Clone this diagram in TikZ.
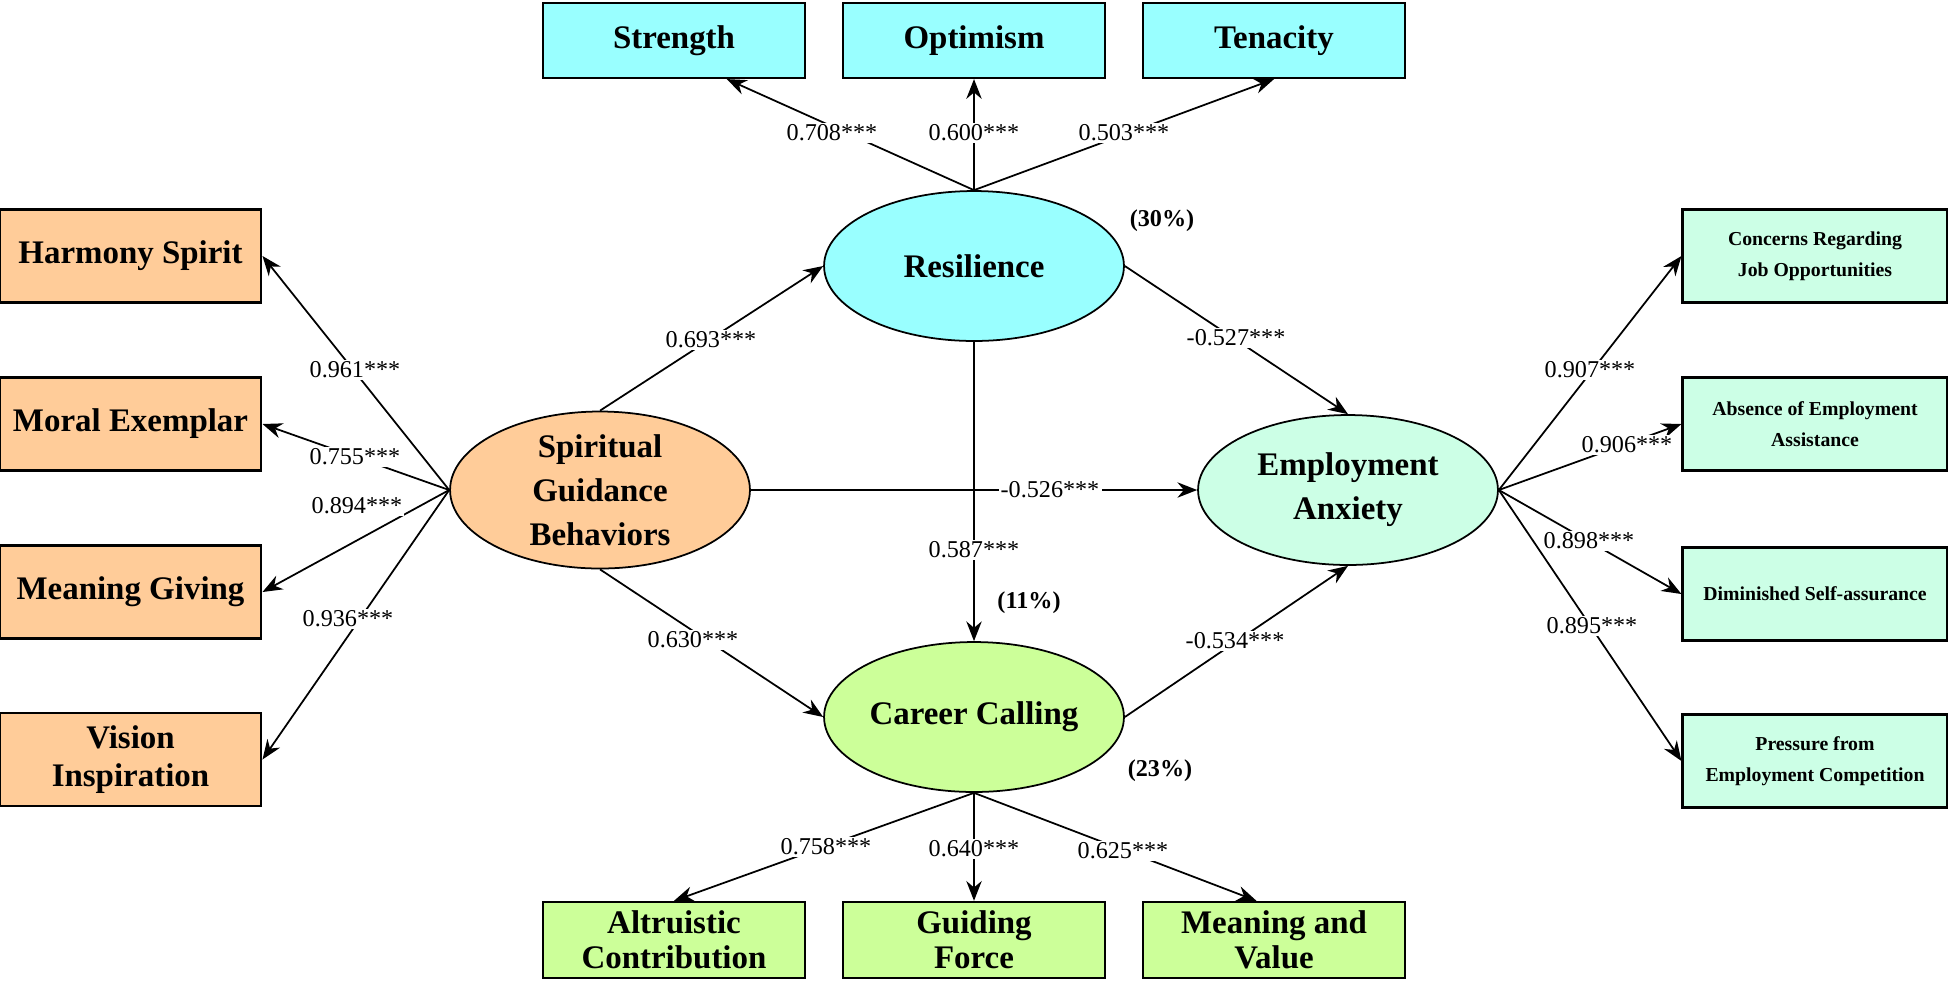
\documentclass[tikz,border=0pt]{standalone}
\usepackage{fontspec}
\setmainfont{Liberation Serif}
\usetikzlibrary{shapes.geometric,arrows.meta}
\definecolor{cy}{HTML}{99FFFF}
\definecolor{orng}{HTML}{FFCC99}
\definecolor{lgrn}{HTML}{CCFF99}
\definecolor{mint}{HTML}{CCFFE6}
\begin{document}
\begin{tikzpicture}[x=0.016cm,y=-0.016cm,
  box/.style={draw,line width=1pt,minimum width=4.19cm,minimum height=1.49cm,inner sep=1pt,align=center,font=\fontsize{15}{17}\selectfont\bfseries},
  tbox/.style={box,minimum height=1.2cm,fill=cy},
  bbox/.style={box,minimum height=1.22cm,fill=lgrn,font=\fontsize{15}{16}\selectfont\bfseries},
  lbox/.style={box,fill=orng},
  rbox/.style={box,fill=mint,minimum width=4.24cm,font=\fontsize{9}{14}\selectfont\bfseries},
  lat/.style={draw,ellipse,line width=0.8pt,minimum width=4.8cm,minimum height=2.4cm,inner sep=0pt,align=center,font=\fontsize{15}{20}\selectfont\bfseries},
  lab/.style={fill=white,inner sep=1pt,font=\fontsize{11}{12}\selectfont},
  pct/.style={font=\fontsize{11}{12}\selectfont\bfseries},
  arr/.style={-{Stealth[length=9pt,width=7pt]},line width=0.8pt}]
\useasboundingbox (0,0) rectangle (1948,982);
% top boxes
\node[tbox] (str) at (674,40.5) {Strength};
\node[tbox] (opt) at (974,40.5) {Optimism};
\node[tbox] (ten) at (1274,40.5) {Tenacity};
% bottom boxes
\node[bbox] (alt) at (674,940) {Altruistic\\Contribution};
\node[bbox] (gui) at (974,940) {Guiding\\Force};
\node[bbox] (mav) at (1274,940) {Meaning and\\Value};
% left boxes
\node[lbox] (har) at (130.5,256) {Harmony Spirit};
\node[lbox] (mor) at (130.5,424) {Moral Exemplar};
\node[lbox] (mea) at (130.5,592) {Meaning Giving};
\node[lbox] (vis) at (130.5,759.5) {Vision\\Inspiration};
% right boxes
\node[rbox] (con) at (1815,256) {Concerns Regarding\\Job Opportunities};
\node[rbox] (abs) at (1815,424) {Absence of Employment\\Assistance};
\node[rbox] (dim) at (1815,594) {Diminished Self-assurance};
\node[rbox] (pre) at (1815,761) {Pressure from\\Employment Competition};
% latent
\node[lat,fill=cy] (res) at (974,266) {Resilience};
\node[lat,fill=orng] (sgb) at (600,490) {Spiritual\\Guidance\\Behaviors};
\node[lat,fill=mint] (ea) at (1348,490) {Employment\\Anxiety};
\node[lat,fill=lgrn] (cc) at (974,717) {Career Calling};
% resilience indicators
\draw[arr] (res.north) -- ([xshift=24]str.south);
\draw[arr] (res.north) -- (opt.south);
\draw[arr] (res.north) -- (ten.south);
\node[lab] (l1) at (832,133) {0.708***};
\node[lab] (l2) at (974,133) {0.600***};
\node[lab] (l3) at (1124,133) {0.503***};
% career calling indicators
\draw[arr] (cc.south) -- (alt.north);
\draw[arr] (cc.south) -- (gui.north);
\draw[arr] (cc.south) -- ([xshift=-8]mav.north);
\node[lab] (l4) at (826,847) {0.758***};
\node[lab] (l5) at (974,849) {0.640***};
\node[lab] (l6) at (1123,851) {0.625***};
% SGB indicators
\draw[arr] (sgb.west) -- (har.east);
\draw[arr] (sgb.west) -- (mor.east);
\draw[arr] (sgb.west) -- (mea.east);
\draw[arr] (sgb.west) -- (vis.east);
\node[lab] (l7) at (355,370) {0.961***};
\node[lab] (l8) at (355,457) {0.755***};
\node[lab] (l9) at (357,506) {0.894***};
\node[lab] (l10) at (348,619) {0.936***};
% EA indicators
\draw[arr] (ea.east) -- (con.west);
\draw[arr] (ea.east) -- (abs.west);
\draw[arr] (ea.east) -- (dim.west);
\draw[arr] (ea.east) -- (pre.west);
\node[lab] (l11) at (1590,370) {0.907***};
\node[lab] (l12) at (1627,445) {0.906***};
\node[lab] (l13) at (1589,541) {0.898***};
\node[lab] (l14) at (1592,626) {0.895***};
% structural paths
\draw[arr] (sgb.north) -- (res.west);
\draw[arr] (sgb.south) -- (cc.west);
\draw[arr] (sgb.east) -- (ea.west);
\draw[arr] (res.east) -- (ea.north);
\draw[arr] (cc.east) -- (ea.south);
\draw[arr] (res.south) -- (cc.north);
\node[lab] (l15) at (711,340) {0.693***};
\node[lab] (l16) at (693,640) {0.630***};
\node[lab] (l17) at (1050,490) {-0.526***};
\node[lab] (l18) at (1236,338) {-0.527***};
\node[lab] (l19) at (1235,641) {-0.534***};
\node[lab] (l20) at (974,550) {0.587***};
\node[pct] (p1) at (1162,221) {(30\%)};
\node[pct] (p2) at (1029,603) {(11\%)};
\node[pct] (p3) at (1160,771) {(23\%)};
\end{tikzpicture}
\end{document}
